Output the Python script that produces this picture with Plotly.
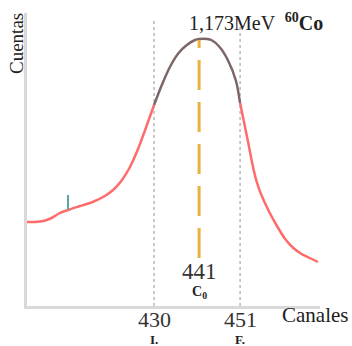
import plotly.graph_objects as go

# Spectrum data (channel vs counts, arbitrary units)
channels = [399, 401, 403, 405, 407, 409, 412, 415, 418, 420, 422, 424, 426, 428,
            430, 432, 434, 436, 438, 440, 441, 443, 444, 446, 448, 450,
            451, 452, 453, 454, 455, 456, 458, 460, 462, 464, 466, 468, 470]
counts = [84, 84, 85, 88, 93, 96, 100, 104, 110, 116, 125, 138, 156, 178,
          201, 222, 240, 253, 261, 266, 267, 267, 266, 259, 246, 225,
          203, 183, 163, 142, 125, 113, 95, 80, 67, 58, 52, 48, 44]

roi_start, roi_end = 430, 451
centroid = 441
marker_channel = 409
marker_counts = [96, 111]
centroid_counts = [48, 266]
guide_top = 288

tick_values = [430, 451]
tick_labels = ["430", "451"]
tick_sub = ["I.", "F."]
centroid_label = "441"
centroid_sub = "C<sub>0</sub>"

FONT = "Liberation Serif"
RED = "#ff6b6b"
PEAK = "#7e6666"

i0 = channels.index(roi_start)
i1 = channels.index(roi_end)

fig = go.Figure()
# vertical dotted guides
for v in tick_values:
    fig.add_trace(go.Scatter(x=[v, v], y=[0, guide_top], mode="lines",
                             line=dict(color="#b8b8b8", width=1.5, dash="dot"),
                             hoverinfo="skip"))
# left and right red parts
fig.add_trace(go.Scatter(x=channels[:i0 + 1], y=counts[:i0 + 1], mode="lines",
                         line=dict(color=RED, width=2.5, shape="spline", smoothing=0.7),
                         hoverinfo="skip"))
fig.add_trace(go.Scatter(x=channels[i1:], y=counts[i1:], mode="lines",
                         line=dict(color=RED, width=2.5, shape="spline", smoothing=0.8),
                         hoverinfo="skip"))
# peak part
fig.add_trace(go.Scatter(x=channels[i0:i1 + 1], y=counts[i0:i1 + 1], mode="lines",
                         line=dict(color=PEAK, width=2.5, shape="spline", smoothing=0.8),
                         hoverinfo="skip"))
# centroid dashed line
fig.add_trace(go.Scatter(x=[centroid, centroid], y=centroid_counts, mode="lines",
                         line=dict(color="#e8b13c", width=3, dash="30px,12px"),
                         hoverinfo="skip"))
# small teal marker
fig.add_trace(go.Scatter(x=[marker_channel, marker_channel], y=marker_counts, mode="lines",
                         line=dict(color="#5aa6a6", width=2), hoverinfo="skip"))


def py(p):
    return (306 - p) / 293.0


def A(**kw):
    kw.setdefault("showarrow", False)
    kw.setdefault("xanchor", "center")
    kw.setdefault("yanchor", "middle")
    return dict(**kw)


ann = []
for v, t, s in zip(tick_values, tick_labels, tick_sub):
    ann.append(A(x=v, y=py(319), xref="x", yref="paper", text=t,
                 font=dict(family=FONT, size=22, color="#333")))
    ann.append(A(x=v, y=py(339.5), xref="x", yref="paper", text="<b>" + s + "</b>",
                 font=dict(family=FONT, size=13, color="#222")))
ann.append(A(x=centroid, y=py(271), xref="x", yref="paper", text=centroid_label,
             font=dict(family=FONT, size=23, color="#333")))
ann.append(A(x=centroid, y=py(292), xref="x", yref="paper", text="<b>" + centroid_sub + "</b>",
             font=dict(family=FONT, size=14, color="#222")))
ann.append(A(x=(315 - 27) / 293.0, y=py(315), xref="paper", yref="paper", text="Canales",
             font=dict(family=FONT, size=21, color="#222")))
ann.append(A(x=0, y=py(44), xref="paper", yref="paper", text="Cuentas", textangle=-90,
             xshift=-11, font=dict(family=FONT, size=19, color="#222")))
ann.append(A(x=(187 - 27) / 293.0, y=py(22), xref="paper", yref="paper", xanchor="left",
             text="1,173MeV  <b><sup>60</sup>Co</b>",
             font=dict(family=FONT, size=20, color="#222")))

fig.update_layout(
    width=352, height=346,
    margin=dict(l=27, r=32, t=13, b=40),
    paper_bgcolor="white", plot_bgcolor="white",
    showlegend=False,
    annotations=ann,
    xaxis=dict(range=[399, 470.5], showline=True, linecolor="#d9d9d9", linewidth=3,
               showgrid=False, zeroline=False, showticklabels=False, ticks=""),
    yaxis=dict(range=[0, 293], showline=True, linecolor="#d9d9d9", linewidth=3,
               showgrid=False, zeroline=False, showticklabels=False, ticks=""),
)

fig.write_html("out.html")
